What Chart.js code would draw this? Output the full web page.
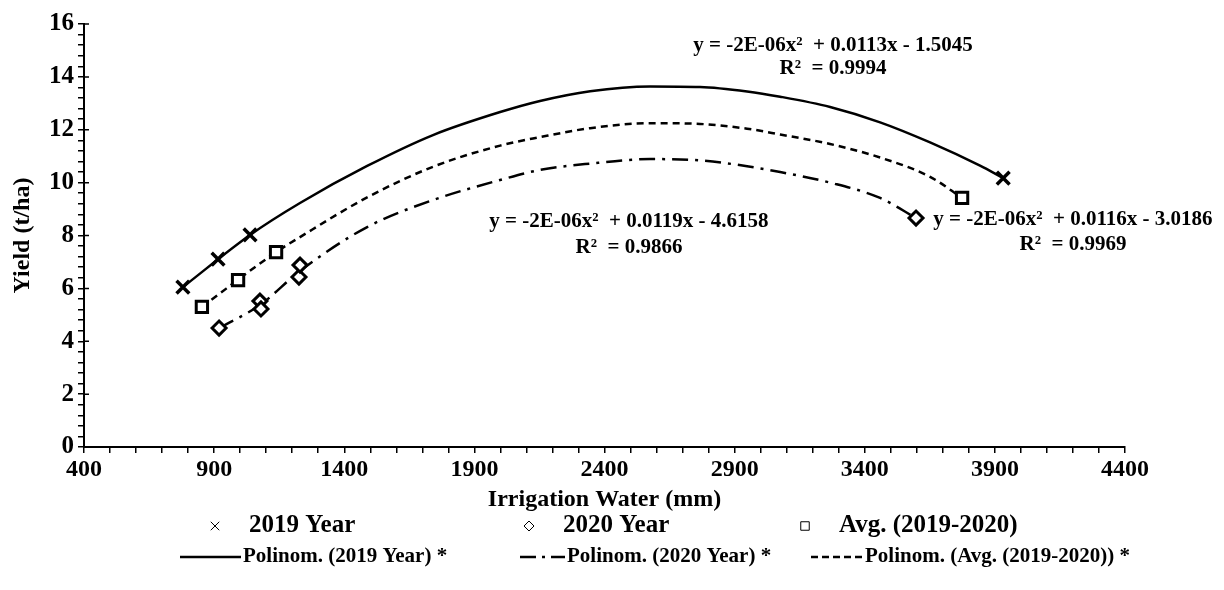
<!DOCTYPE html>
<html>
<head>
<meta charset="utf-8">
<script src="https://cdn.jsdelivr.net/npm/chart.js@4.4.1/dist/chart.umd.min.js"></script>
<style>
  html, body { margin: 0; background: #fff; }
  #wrap { width: 1224px; height: 590px; position: relative; }
</style>
</head>
<body>
<div id="wrap"><canvas id="chart"></canvas></div>
<script>
const SERIF = '"Liberation Serif", "Times New Roman", serif';

const seriesNames = ["2019 Year", "2020 Year", "Avg. (2019-2020)"];
const trendNames = ["Polinom. (2019 Year) *", "Polinom. (2020 Year) *", "Polinom. (Avg. (2019-2020)) *"];

// measured points
const water2019 = [780, 915, 1038, 3932];
const yield2019 = [6.05, 7.11, 8.02, 10.17];
const water2020 = [919, 1076, 1080, 1226, 1230, 3597];
const yield2020 = [4.50, 5.52, 5.22, 6.43, 6.88, 8.66];
const waterAvg = [853, 992, 1138, 3774];
const yieldAvg = [5.30, 6.31, 7.37, 9.42];

// trend curves
const trendX2019 = [780, 1038, 1230, 1488, 1741, 1999, 2152, 2345, 2575, 2767, 2948, 3075, 3267, 3459, 3651, 3843, 3932];
const trendY2019 = [6.05, 8.02, 9.23, 10.63, 11.80, 12.67, 13.09, 13.46, 13.64, 13.62, 13.45, 13.25, 12.86, 12.28, 11.52, 10.64, 10.17];
const trendX2020 = [919, 1076, 1230, 1488, 1741, 1999, 2152, 2345, 2575, 2767, 2948, 3075, 3267, 3459, 3597];
const trendY2020 = [4.50, 5.37, 6.66, 8.32, 9.34, 10.10, 10.48, 10.72, 10.89, 10.84, 10.62, 10.40, 10.00, 9.42, 8.66];
const trendXAvg = [853, 1138, 1230, 1488, 1741, 1999, 2152, 2345, 2575, 2767, 2948, 3075, 3267, 3459, 3651, 3774];
const trendYAvg = [5.30, 7.37, 7.94, 9.44, 10.60, 11.40, 11.72, 12.06, 12.25, 12.22, 12.04, 11.82, 11.46, 10.95, 10.22, 9.42];

// fit equations printed on the chart
const eqLabels = ["y = -2E-06x²  + 0.0113x - 1.5045", "y = -2E-06x²  + 0.0119x - 4.6158", "y = -2E-06x²  + 0.0116x - 3.0186"];
const r2Labels = ["R²  = 0.9994", "R²  = 0.9866", "R²  = 0.9969"];

const xTickLabels = [400, 900, 1400, 1900, 2400, 2900, 3400, 3900, 4400];
const yTickLabels = [0, 2, 4, 6, 8, 10, 12, 14, 16];

const pts = (xs, ys) => xs.map((x, i) => ({ x, y: ys[i] }));

// minor ticks: every 100 mm and every 0.4 t/ha
const xTicks = [];
for (let v = 400; v <= 4400; v += 100) xTicks.push(v);
const yTicks = [];
for (let i = 0; i <= 40; i++) yTicks.push(Math.round(i * 4) / 10);

const font = (size) => ({ family: SERIF, size, weight: "bold" });

const eqPlugin = {
  id: "equations",
  afterDraw(chart) {
    const { ctx, scales: { x, y } } = chart;
    const spots = [[3278, 15.2, 14.33], [2494, 8.51, 7.53], [4200, 8.59, 7.64]];
    ctx.save();
    ctx.fillStyle = "#000";
    ctx.font = `bold 21px ${SERIF}`;
    ctx.textAlign = "center";
    ctx.textBaseline = "middle";
    spots.forEach(([wx, y1, y2], i) => {
      ctx.fillText(eqLabels[i], x.getPixelForValue(wx), y.getPixelForValue(y1));
      ctx.fillText(r2Labels[i], x.getPixelForValue(wx), y.getPixelForValue(y2));
    });
    ctx.restore();
  }
};

const majorTickPlugin = {
  id: "majorTicks",
  afterDraw(chart) {
    const { ctx, scales: { x, y } } = chart;
    ctx.save();
    ctx.strokeStyle = "#000";
    ctx.lineWidth = 1.5;
    ctx.beginPath();
    yTickLabels.forEach((v) => {
      const py = y.getPixelForValue(v);
      ctx.moveTo(x.left, py);
      ctx.lineTo(x.left + 5, py);
    });
    ctx.stroke();
    ctx.restore();
  }
};

const legendPlugin = {
  id: "bottomLegend",
  afterDraw(chart) {
    const ctx = chart.ctx;
    const h = Chart.helpers;
    const row1 = 526, row2 = 557;
    const cols = [215, 529, 805];
    const markers = [
      { pointStyle: "crossRot", radius: 6, borderWidth: 2 },
      { pointStyle: "rectRot", radius: 5, borderWidth: 2 },
      { pointStyle: "rect", radius: 6, borderWidth: 2.5 }
    ];
    ctx.save();
    ctx.fillStyle = "#000";
    ctx.textBaseline = "middle";
    ctx.textAlign = "left";
    ctx.font = `bold 25px ${SERIF}`;
    cols.forEach((cx, i) => {
      ctx.save();
      ctx.strokeStyle = "#000";
      ctx.fillStyle = "#fff";
      h.drawPoint(ctx, markers[i], cx, row1);
      ctx.restore();
      ctx.fillText(seriesNames[i], cx + 34, row1);
    });

    const lines = [[180, 241, []], [520, 565, [16, 6, 3, 6]], [811, 863, [7, 4]]];
    ctx.font = `bold 21px ${SERIF}`;
    lines.forEach(([a, b, dash], i) => {
      ctx.save();
      ctx.strokeStyle = "#000";
      ctx.lineWidth = 2.5;
      ctx.setLineDash(dash);
      ctx.beginPath();
      ctx.moveTo(a, row2);
      ctx.lineTo(b, row2);
      ctx.stroke();
      ctx.restore();
      ctx.fillText(trendNames[i], b + 2, row2);
    });
    ctx.restore();
  }
};

const markerBase = { showLine: false, borderColor: "#000", backgroundColor: "#fff" };
const trendBase = { showLine: true, pointRadius: 0, borderColor: "#000", borderWidth: 2.5, cubicInterpolationMode: "monotone", fill: false };

new Chart(document.getElementById("chart"), {
  type: "scatter",
  data: {
    datasets: [
      { ...markerBase, label: seriesNames[0], data: pts(water2019, yield2019), pointStyle: "crossRot", pointRadius: 9, borderWidth: 3.5 },
      { ...markerBase, label: seriesNames[1], data: pts(water2020, yield2020), pointStyle: "rectRot", pointRadius: 7, borderWidth: 3 },
      { ...markerBase, label: seriesNames[2], data: pts(waterAvg, yieldAvg), pointStyle: "rect", pointRadius: 8, borderWidth: 3 },
      { ...trendBase, label: trendNames[0], data: pts(trendX2019, trendY2019) },
      { ...trendBase, label: trendNames[1], data: pts(trendX2020, trendY2020), borderDash: [16, 7, 3, 7] },
      { ...trendBase, label: trendNames[2], data: pts(trendXAvg, trendYAvg), borderDash: [7, 5] }
    ]
  },
  options: {
    responsive: true,
    maintainAspectRatio: false,
    animation: false,
    devicePixelRatio: 1,
    layout: { padding: { left: 0, right: 99, top: 24, bottom: 74 } },
    plugins: { legend: { display: false }, tooltip: { enabled: false } },
    scales: {
      x: {
        type: "linear",
        min: 400,
        max: 4400,
        afterBuildTicks: (s) => { s.ticks = xTicks.map((v) => ({ value: v })); },
        afterFit: (s) => { s.height = 69; },
        ticks: {
          autoSkip: false,
          maxRotation: 0,
          color: "#000",
          font: font(24),
          padding: 2,
          callback: (v) => (xTickLabels.includes(v) ? String(v) : "")
        },
        grid: { drawOnChartArea: false, tickLength: 6, color: "#000", lineWidth: 1.5 },
        border: { color: "#000", width: 2 },
        title: { display: true, text: "Irrigation Water (mm)", color: "#000", font: font(24), padding: { top: 0, bottom: 2 } }
      },
      y: {
        type: "linear",
        min: 0,
        max: 16,
        afterBuildTicks: (s) => { s.ticks = yTicks.map((v) => ({ value: v })); },
        afterFit: (s) => { s.width = 84; },
        ticks: {
          autoSkip: false,
          color: "#000",
          font: font(25),
          padding: 4,
          callback: (v) => (yTickLabels.includes(v) ? String(v) : "")
        },
        grid: { drawOnChartArea: false, tickLength: 6, color: "#000", lineWidth: 1.5 },
        border: { color: "#000", width: 2 },
        title: { display: true, text: "Yield (t/ha)", color: "#000", font: font(24), padding: { top: 8, bottom: 0 } }
      }
    }
  },
  plugins: [eqPlugin, majorTickPlugin, legendPlugin]
});
</script>
</body>
</html>
